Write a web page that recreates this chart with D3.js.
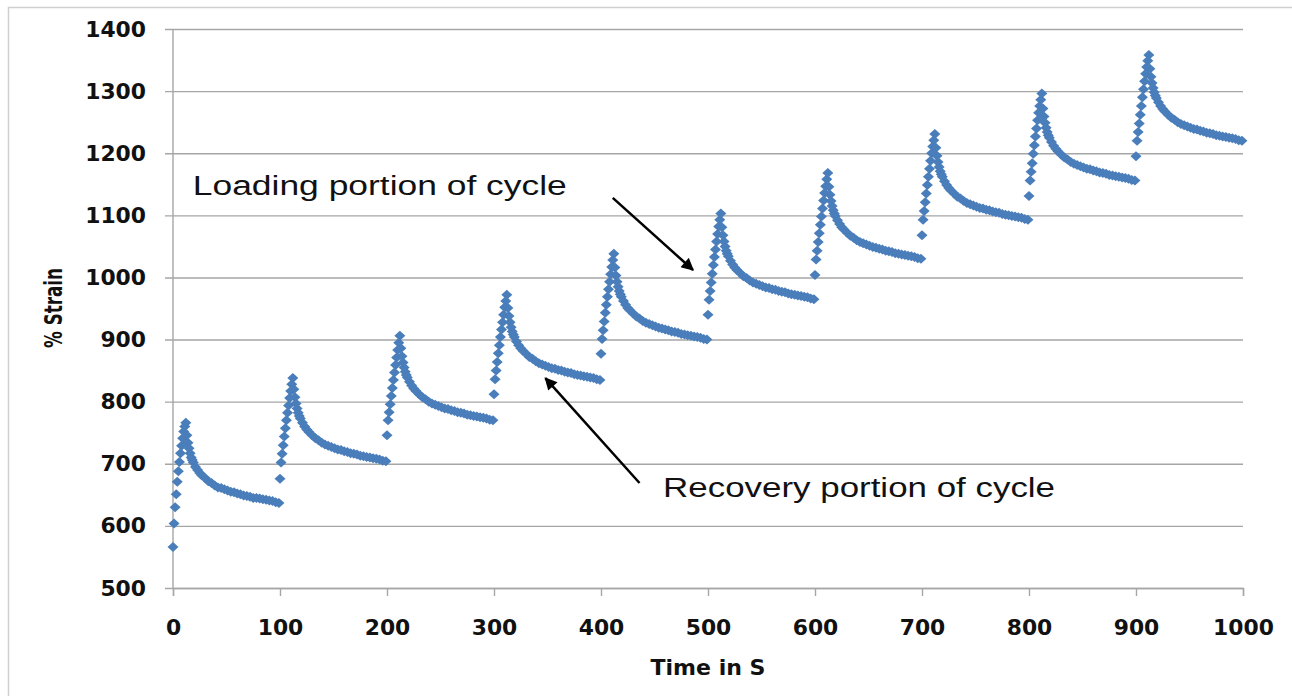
<!DOCTYPE html>
<html>
<head>
<meta charset="utf-8">
<script src="https://cdn.jsdelivr.net/npm/d3@7/dist/d3.min.js"></script>
<style>
  html, body { margin: 0; padding: 0; background: #fff; }
  svg { display: block; }
</style>
</head>
<body>
<svg id="chart" width="1292" height="696"></svg>
<script>
// ---- Data ----
const yTicks = [500, 600, 700, 800, 900, 1000, 1100, 1200, 1300, 1400];
const xTicks = [0, 100, 200, 300, 400, 500, 600, 700, 800, 900, 1000];
const cycleStarts = [0, 100, 200, 300, 400, 500, 600, 700, 800, 900];
// time offsets (s) within one cycle: 13 loading points, then 35 recovery points
const cycleOffsets = [0, 1, 2, 3, 4, 5, 6, 7, 8, 9, 10, 11, 12,
  13, 14, 15, 16, 17, 18, 19, 21, 23, 25, 27, 30, 33, 36, 39, 42, 45, 48, 51, 54, 57, 60,
  63, 66, 69, 72, 75, 78, 81, 84, 87, 90, 93, 96, 99];
const cycle1 = [566, 604, 630, 651, 671, 688, 703, 717, 729, 741, 752, 760, 766,
  746, 734, 725, 717, 710, 706, 702, 695, 690, 685, 681, 677, 672, 669, 665, 662, 661, 659, 657, 655, 654, 652,
  651, 649, 648, 647, 645, 645, 644, 643, 642, 641, 640, 638, 637];
const cycle2 = [676, 702, 716, 730, 744, 757, 770, 782, 794, 806, 817, 828, 838,
  820, 807, 797, 789, 782, 777, 773, 766, 760, 755, 751, 746, 741, 738, 734, 731, 729, 727, 725, 723, 722, 720,
  719, 717, 716, 715, 713, 712, 711, 710, 709, 708, 707, 705, 704];
const cycle3 = [746, 770, 783, 796, 809, 822, 835, 847, 859, 871, 883, 895, 906,
  886, 873, 863, 855, 848, 843, 839, 832, 826, 821, 817, 812, 807, 804, 800, 797, 795, 793, 791, 789, 788, 786,
  785, 783, 782, 781, 779, 778, 777, 776, 775, 774, 773, 771, 770];
const cycle4 = [812, 836, 850, 864, 878, 891, 904, 916, 928, 940, 952, 962, 972,
  951, 938, 928, 920, 913, 908, 904, 897, 891, 886, 882, 877, 872, 869, 865, 862, 860, 858, 856, 854, 853, 851,
  850, 848, 847, 846, 844, 843, 842, 841, 840, 839, 838, 836, 835];
const cycle5 = [877, 901, 915, 929, 943, 956, 969, 981, 993, 1005, 1017, 1028, 1038,
  1016, 1003, 993, 985, 978, 973, 969, 962, 956, 951, 947, 942, 937, 934, 930, 927, 925, 923, 921, 919, 918, 916,
  915, 913, 912, 911, 909, 908, 907, 906, 905, 904, 903, 901, 900];
const cycle6 = [940, 964, 978, 992, 1006, 1020, 1033, 1045, 1058, 1070, 1082, 1093, 1103,
  1081, 1068, 1058, 1050, 1043, 1038, 1034, 1027, 1021, 1016, 1012, 1007, 1002, 999, 995, 992, 990, 988, 986, 984, 983, 981,
  980, 978, 977, 976, 974, 973, 972, 971, 970, 969, 968, 966, 965];
const cycle7 = [1004, 1029, 1043, 1057, 1071, 1085, 1098, 1111, 1124, 1136, 1147, 1158, 1168,
  1146, 1133, 1123, 1115, 1108, 1103, 1099, 1092, 1086, 1081, 1077, 1072, 1067, 1064, 1060, 1057, 1055, 1053, 1051, 1049, 1048, 1046,
  1045, 1043, 1042, 1041, 1039, 1038, 1037, 1036, 1035, 1034, 1033, 1031, 1030];
const cycle8 = [1068, 1093, 1107, 1121, 1135, 1149, 1162, 1175, 1188, 1200, 1211, 1221, 1231,
  1209, 1196, 1186, 1178, 1171, 1166, 1162, 1155, 1149, 1144, 1140, 1135, 1130, 1127, 1123, 1120, 1118, 1116, 1114, 1112, 1111, 1109,
  1108, 1106, 1105, 1104, 1102, 1101, 1100, 1099, 1098, 1097, 1096, 1094, 1093];
const cycle9 = [1131, 1156, 1170, 1184, 1199, 1213, 1227, 1240, 1253, 1265, 1276, 1286, 1296,
  1272, 1259, 1249, 1241, 1234, 1229, 1225, 1218, 1212, 1207, 1203, 1198, 1193, 1190, 1186, 1183, 1181, 1179, 1177, 1175, 1174, 1172,
  1171, 1169, 1168, 1167, 1165, 1164, 1163, 1162, 1161, 1160, 1159, 1157, 1156];
const cycle10 = [1195, 1220, 1234, 1248, 1262, 1276, 1290, 1303, 1316, 1328, 1339, 1349, 1358,
  1336, 1323, 1313, 1305, 1298, 1293, 1289, 1282, 1276, 1271, 1267, 1262, 1257, 1254, 1250, 1247, 1245, 1243, 1241, 1239, 1238, 1236,
  1235, 1233, 1232, 1231, 1229, 1228, 1227, 1226, 1225, 1224, 1223, 1221, 1220];
const cycles = [cycle1, cycle2, cycle3, cycle4, cycle5, cycle6, cycle7, cycle8, cycle9, cycle10];

const xTitle = "Time in S";
const yTitle = "% Strain";
// annotations: text anchor and arrow tail/head, in data units
const annoLabels = ["Loading portion of cycle", "Recovery portion of cycle"];
const annoTextPos = [[18.5, 1133], [458, 646]];
const annoArrowTail = [[411, 1128], [436, 669]];
const annoArrowHead = [[486, 1012], [348, 838]];

// ---- Drawing ----
const svg = d3.select("#chart");
const x = d3.scaleLinear().domain([0, 1000]).range([173, 1243]);
const y = d3.scaleLinear().domain([500, 1400]).range([588, 29]);
const gridColor = "#a6a6a6";
const labelFont = "DejaVu Sans";

// outer frame
svg.append("rect").attr("x", 8.5).attr("y", 7.5).attr("width", 1320).attr("height", 720)
  .attr("fill", "none").attr("stroke", "#d0d0d0").attr("stroke-width", 1.5);

// y gridlines (extend left as tick marks)
const yAxis = d3.axisLeft(y).tickValues(yTicks).tickSize(-(1243 - 165)).tickFormat(d3.format("d"));
const gy = svg.append("g").attr("transform", "translate(1243,0)").call(yAxis);
gy.select(".domain").remove();
gy.selectAll(".tick line").attr("stroke", gridColor).attr("stroke-width", 1.4)
  .attr("x1", 0).attr("x2", -(1243 - 165));
gy.selectAll(".tick text").remove();

// y labels
svg.append("g").selectAll("text").data(yTicks).join("text")
  .attr("x", 146).attr("y", d => y(d) + 7.5)
  .attr("text-anchor", "end")
  .attr("font-family", labelFont).attr("font-weight", "bold").attr("font-size", 21)
  .attr("textLength", d => String(d).length * 15.2).attr("lengthAdjust", "spacingAndGlyphs")
  .attr("fill", "#111")
  .text(d => d);

// y axis line
svg.append("line").attr("x1", x(0)).attr("x2", x(0)).attr("y1", y(1400)).attr("y2", y(500))
  .attr("stroke", gridColor).attr("stroke-width", 1.4);

// x axis
const xAxis = d3.axisBottom(x).tickValues(xTicks).tickSize(8).tickFormat(d3.format("d"));
const gx = svg.append("g").attr("transform", `translate(0,${y(500)})`).call(xAxis);
gx.select(".domain").attr("stroke", gridColor).attr("stroke-width", 1.4);
gx.selectAll(".tick line").attr("stroke", gridColor).attr("stroke-width", 1.4);
gx.selectAll(".tick text")
  .attr("y", 47).attr("dy", null)
  .attr("font-family", labelFont).attr("font-weight", "bold").attr("font-size", 21)
  .attr("textLength", d => String(d).length * 15.2).attr("lengthAdjust", "spacingAndGlyphs")
  .attr("fill", "#111");

// axis titles
svg.append("text").attr("x", 708).attr("y", 675).attr("text-anchor", "middle")
  .attr("font-family", labelFont).attr("font-weight", "bold").attr("font-size", 21)
  .attr("textLength", 115).attr("lengthAdjust", "spacingAndGlyphs")
  .attr("fill", "#111").text(xTitle);
svg.append("text").attr("transform", "translate(62,308) rotate(-90)").attr("text-anchor", "middle")
  .attr("font-family", labelFont).attr("font-weight", "bold").attr("font-size", 24)
  .attr("textLength", 80).attr("lengthAdjust", "spacingAndGlyphs")
  .attr("fill", "#111").text(yTitle);

// points
const points = [];
cycles.forEach((vals, ci) => {
  vals.forEach((v, i) => points.push({ t: cycleStarts[ci] + cycleOffsets[i], v }));
});
const diamond = "M0,-5L5.5,0L0,5L-5.5,0Z";
svg.append("g").selectAll("path").data(points).join("path")
  .attr("d", diamond)
  .attr("transform", d => `translate(${x(d.t)},${y(d.v)})`)
  .attr("fill", "#4A7EBB");

// annotations
svg.append("defs").append("marker")
  .attr("id", "arrow").attr("viewBox", "0 0 10 10").attr("refX", 9).attr("refY", 5)
  .attr("markerWidth", 6.5).attr("markerHeight", 5).attr("orient", "auto")
  .attr("markerUnits", "strokeWidth")
  .append("path").attr("d", "M0,0L10,5L0,10Z").attr("fill", "#000");

annoLabels.forEach((label, i) => {
  svg.append("text")
    .attr("x", x(annoTextPos[i][0])).attr("y", y(annoTextPos[i][1]))
    .attr("font-family", "Liberation Sans").attr("font-size", 27)
    .attr("textLength", i === 0 ? 374 : 392).attr("lengthAdjust", "spacingAndGlyphs")
    .attr("fill", "#111").text(label);
  svg.append("line")
    .attr("x1", x(annoArrowTail[i][0])).attr("y1", y(annoArrowTail[i][1]))
    .attr("x2", x(annoArrowHead[i][0])).attr("y2", y(annoArrowHead[i][1]))
    .attr("stroke", "#000").attr("stroke-width", 2.5)
    .attr("marker-end", "url(#arrow)");
});
</script>
</body>
</html>
